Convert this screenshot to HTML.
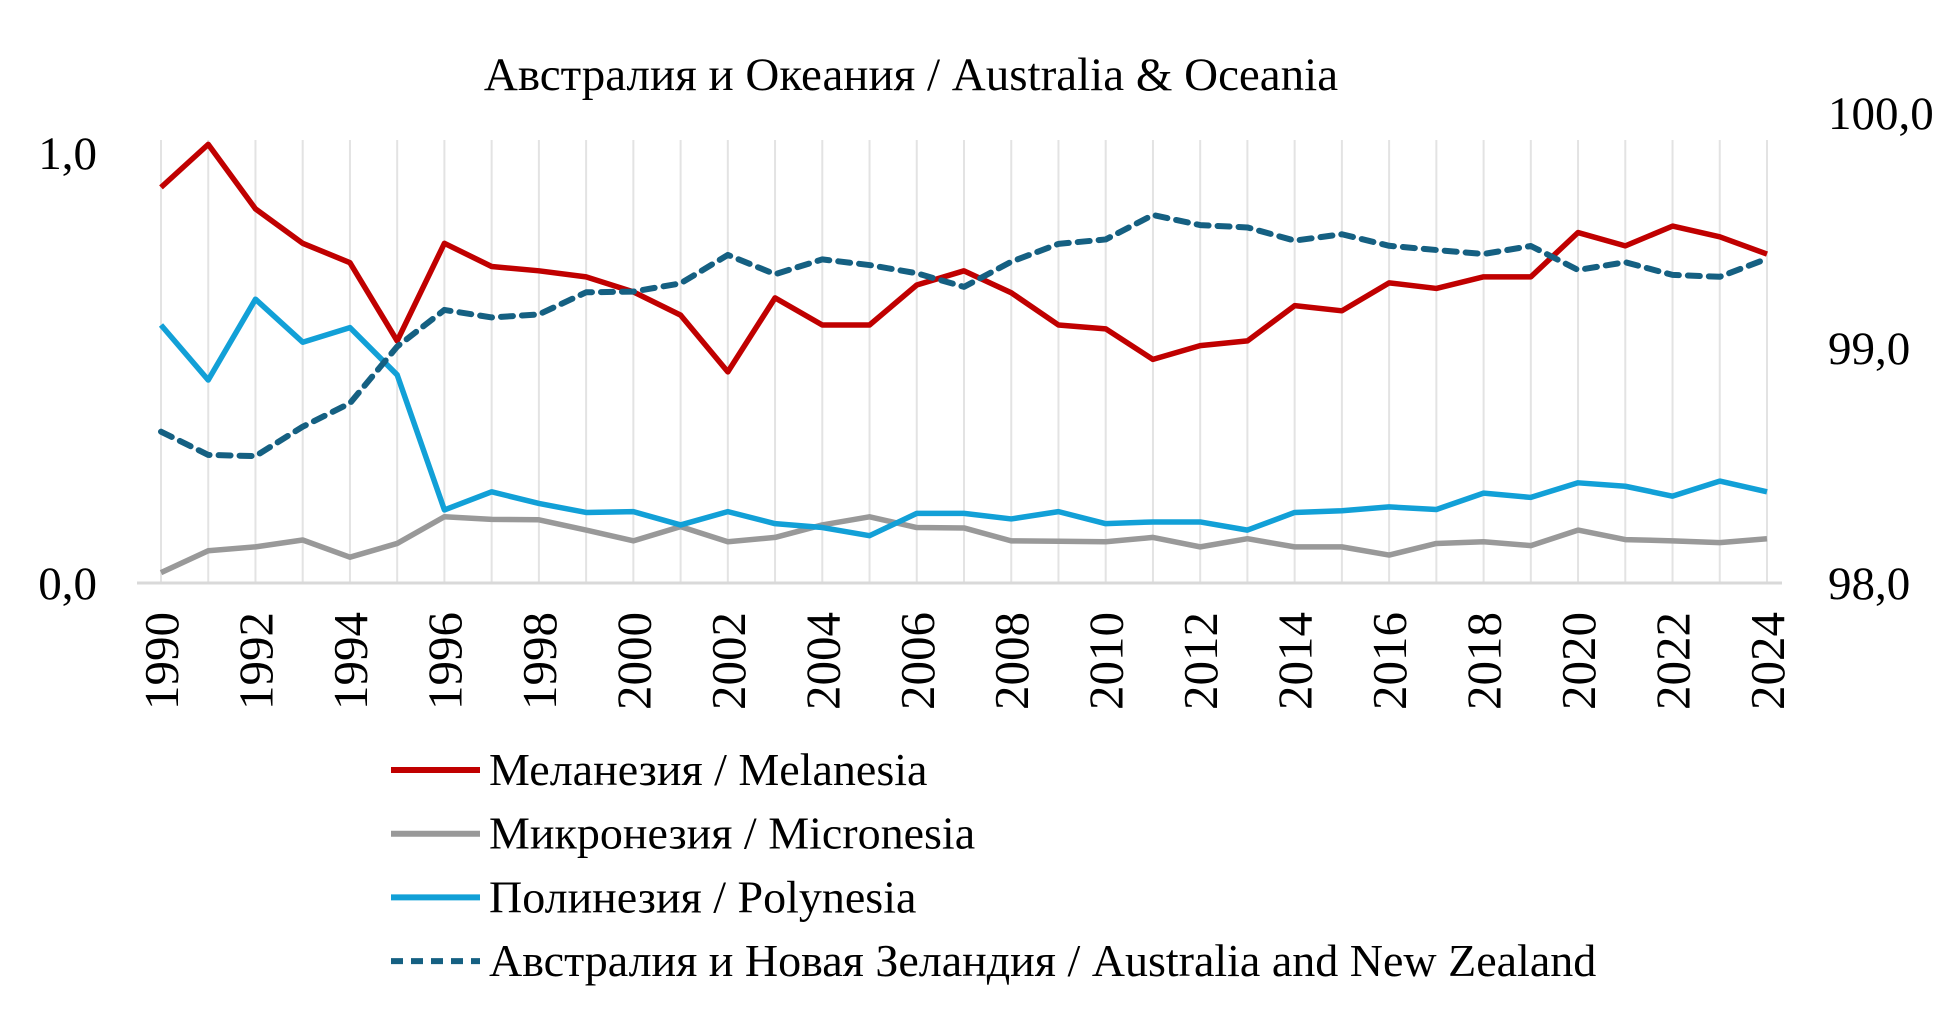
<!DOCTYPE html>
<html><head><meta charset="utf-8"><style>
body{margin:0;background:#fff}
svg text{font-family:"Liberation Serif","DejaVu Serif",serif;fill:#000}
</style></head><body>
<svg id="chart" width="1947" height="1013" viewBox="0 0 1947 1013" xmlns="http://www.w3.org/2000/svg">
<text x="911" y="90" font-size="47" text-anchor="middle">Австралия и Океания / Australia &amp; Oceania</text>
<g id="grid"></g><g id="series"></g><g id="axes"></g><g id="legend"></g>
</svg>
<script>
const years=[];for(let y=1990;y<=2024;y++)years.push(y);
const melanesia=[0.92,1.02,0.87,0.79,0.745,0.563,0.79,0.736,0.726,0.712,0.677,0.623,0.491,0.663,0.60,0.60,0.693,0.726,0.675,0.60,0.591,0.52,0.552,0.563,0.645,0.633,0.698,0.685,0.712,0.712,0.815,0.784,0.83,0.805,0.765];
const micronesia=[0.024,0.075,0.084,0.10,0.06,0.092,0.154,0.148,0.147,0.123,0.098,0.131,0.096,0.106,0.135,0.154,0.129,0.128,0.098,0.097,0.096,0.106,0.084,0.103,0.084,0.084,0.065,0.092,0.096,0.087,0.123,0.101,0.098,0.094,0.103];
const polynesia=[0.60,0.472,0.66,0.56,0.594,0.484,0.17,0.212,0.185,0.164,0.166,0.135,0.166,0.138,0.129,0.11,0.162,0.162,0.149,0.166,0.138,0.142,0.142,0.123,0.164,0.168,0.177,0.171,0.209,0.199,0.233,0.225,0.202,0.237,0.212];
const anz=[98.644,98.545,98.54,98.665,98.765,99.006,99.162,99.13,99.143,99.237,99.24,99.275,99.396,99.314,99.377,99.353,99.318,99.26,99.367,99.443,99.462,99.566,99.523,99.513,99.457,99.484,99.435,99.417,99.40,99.434,99.332,99.365,99.311,99.303,99.38];
const leftTicks=["0,0","1,0"];const leftTickVals=[0,1];
const rightTicks=["98,0","99,0","100,0"];const rightTickVals=[98,99,100];
const NS="http://www.w3.org/2000/svg";
const X0=161,X1=1767,Y0=583;
const x=i=>X0+(X1-X0)*i/(years.length-1);
const yL=v=>Y0-v*430;
const yR=v=>Y0-(v-98)*235;
function mk(t,a,p){const e=document.createElementNS(NS,t);for(const k in a)e.setAttribute(k,a[k]);p.appendChild(e);return e;}
const grid=document.getElementById('grid'),ser=document.getElementById('series'),ax=document.getElementById('axes'),lg=document.getElementById('legend');
years.forEach((yr,i)=>{
 const g=mk('line',{x1:x(i),x2:x(i),y1:Y0,y2:140,stroke:'#e3e3e3','stroke-width':2},grid);
 
 
 if(i%2===0){
 const t=mk('text',{x:0,y:0,'font-size':49,'text-anchor':'end',transform:`translate(${x(i)+17},612) rotate(-90)`},ax);
 t.textContent=yr;
 
 
 }
});
const axl=mk('line',{x1:137,x2:1782,y1:Y0,y2:Y0,stroke:'#d9d9d9','stroke-width':3},ax);


leftTickVals.forEach((v,i)=>{const t=mk('text',{x:97,y:yL(v)+16,'font-size':47,'text-anchor':'end'},ax);t.textContent=leftTicks[i];
 
 });
rightTickVals.forEach((v,i)=>{const t=mk('text',{x:1828,y:yR(v)+16,'font-size':47},ax);t.textContent=rightTicks[i];
 
 });
const defs=[
 {d:micronesia,f:yL,c:'#999999',dash:null,n:'micronesia-line',label:'Микронезия / Micronesia'},
 {d:polynesia,f:yL,c:'#12a0d7',dash:null,n:'polynesia-line',label:'Полинезия / Polynesia'},
 {d:melanesia,f:yL,c:'#c00000',dash:null,n:'melanesia-line',label:'Меланезия / Melanesia'},
 {d:anz,f:yR,c:'#156082',dash:'12 9',n:'australia-nz-line',label:'Австралия и Новая Зеландия / Australia and New Zealand'}];
defs.forEach(s=>{
 const p=mk('polyline',{points:s.d.map((v,i)=>x(i)+','+s.f(v)).join(' '),fill:'none',stroke:s.c,'stroke-width':s.dash?6:5.5,'stroke-linejoin':'round','stroke-linecap':s.dash?'round':'butt'},ser);
 if(s.dash)p.setAttribute('stroke-dasharray',s.dash);
 
 
});
const order=[2,0,1,3];
order.forEach((k,j)=>{const s=defs[k];const yy=770+j*63.7;
 const g=mk('g',{},lg);
 
 
 const l=mk('line',{x1:391,x2:480,y1:yy,y2:yy,stroke:s.c,'stroke-width':6},g);
 if(s.dash)l.setAttribute('stroke-dasharray','12 8');
 const t=mk('text',{x:489,y:yy+15,'font-size':46},g);t.textContent=s.label;
});
</script>
</body></html>
